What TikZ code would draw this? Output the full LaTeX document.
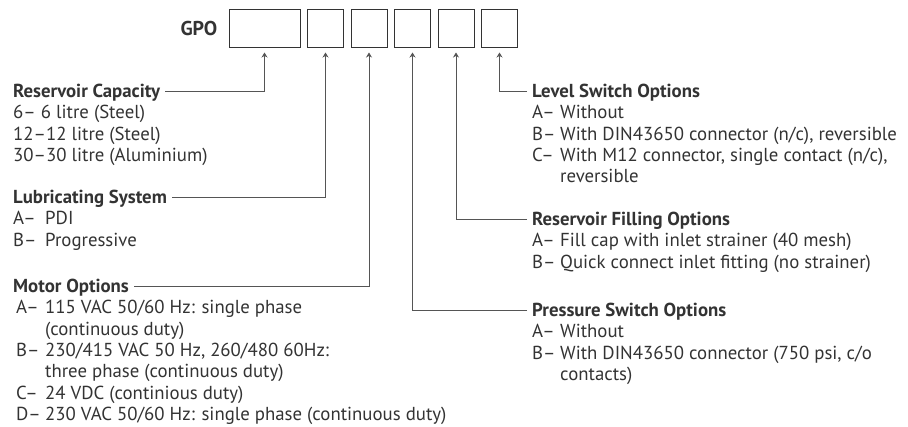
\documentclass[tikz,border=0pt]{standalone}
\usepackage{fontspec}
\setmainfont{PT Sans}
\usetikzlibrary{arrows.meta,positioning}
\definecolor{inkgray}{HTML}{333333}
\definecolor{linegray}{HTML}{555555}

\begin{document}
\begin{tikzpicture}[
		x=1pt, y=-1pt,
		every node/.append style={inner sep=0pt, text=inkgray, font=\fontsize{18.8}{21.3}\selectfont},
		codebox/.style={draw=inkgray, line width=1pt, minimum height=38pt, minimum width=36pt},
		heading/.style={anchor=base west, font=\fontsize{18.8}{21.3}\selectfont\bfseries, text height=12pt, text depth=0pt},
		choices/.style={anchor=base west},
		link/.style={draw=linegray, line width=1pt, shorten <=5pt, shorten >=4pt, -{Stealth[length=5pt,width=6pt]}}
		]
		
		\useasboundingbox (0,0) rectangle (908,427);
		
		% Order code boxes
		\node[codebox, minimum width=71pt] (b1) at (264.5,29) {};
		\node[codebox, right=6.5pt of b1] (b2) {};
		\node[codebox, right=6.5pt of b2] (b3) {};
		\node[codebox, right=6.5pt of b3] (b4) {};
		\node[codebox, right=6.5pt of b4] (b5) {};
		\node[codebox, right=6.5pt of b5] (b6) {};
		\node[font=\fontsize{20}{24}\selectfont\bfseries, left=11pt of b1] (gpo) {GPO};
		
		% Left column
		\node[heading] (hcap) at (13,98) {Reservoir Capacity};
		\node[choices] (lcap) at (13,119) {\begin{tabular}[t]{@{}l@{}}6-- 6 litre (Steel)\\12--12 litre (Steel)\\30--30 litre (Aluminium)\end{tabular}};
		
		\node[heading] (hlub) at (13,204) {Lubricating System};
		\node[choices] (llub) at (13,225) {\begin{tabular}[t]{@{}p{32pt}@{}l@{}}A--&PDI\\B--&Progressive\end{tabular}};
		
		\node[heading] (hmot) at (13,293) {Motor Options};
		\node[choices] (lmot) at (16,314) {\begin{tabular}[t]{@{}p{29pt}@{}l@{}}A--&115 VAC 50/60 Hz: single phase\\&(continuous duty)\\B--&230/415 VAC 50 Hz, 260/480 60Hz:\\&three phase (continuous duty)\\C--&24 VDC (continious duty)\\D--&230 VAC 50/60 Hz: single phase (continuous duty)\end{tabular}};
		
		% Right column
		\node[heading] (hlev) at (532,98) {Level Switch Options};
		\node[choices] (llev) at (532,119) {\begin{tabular}[t]{@{}p{28pt}@{}l@{}}A--&Without\\B--&With DIN43650 connector (n/c), reversible\\C--&With M12 connector, single contact (n/c),\\&reversible\end{tabular}};
		
		\node[heading] (hfill) at (532,226) {Reservoir Filling Options};
		\node[choices] (lfill) at (532,247) {\begin{tabular}[t]{@{}p{28pt}@{}l@{}}A--&Fill cap with inlet strainer (40 mesh)\\B--&Quick connect inlet fitting (no strainer)\end{tabular}};
		
		\node[heading] (hpres) at (532,317) {Pressure Switch Options};
		\node[choices] (lpres) at (532,338) {\begin{tabular}[t]{@{}p{28pt}@{}l@{}}A--&Without\\B--&With DIN43650 connector (750 psi, c/o\\&contacts)\end{tabular}};
		
		% Leader lines
		\draw[link] (hcap.east) -| (b1.south);
		\draw[link] (hlub.east) -| (b2.south);
		\draw[link] (hmot.east) -| (b3.south);
		\draw[link] (hpres.west) -| (b4.south);
		\draw[link] (hfill.west) -| (b5.south);
		\draw[link] (hlev.west) -| (b6.south);
		
	\end{tikzpicture}
\end{document}
